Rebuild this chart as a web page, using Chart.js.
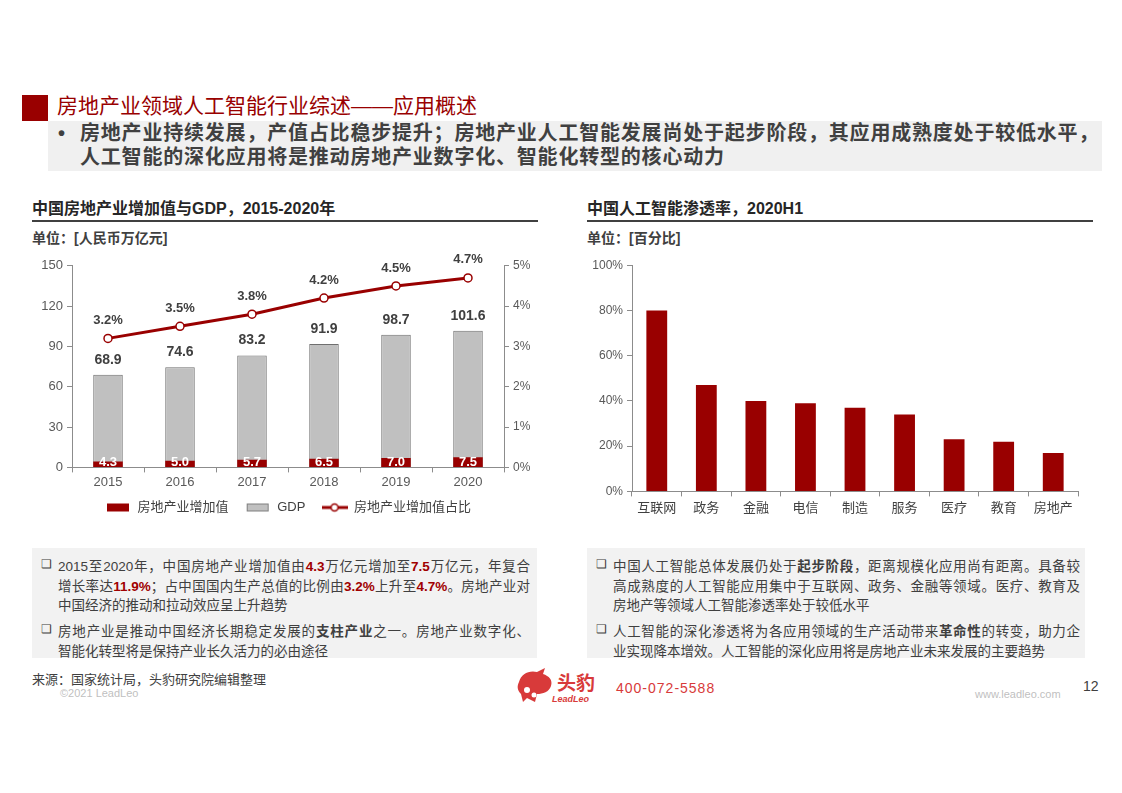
<!DOCTYPE html>
<html lang="zh">
<head>
<meta charset="utf-8">
<script src="https://cdn.jsdelivr.net/npm/chart.js@4.4.1/dist/chart.umd.min.js"></script>
<style>
  html, body { margin: 0; padding: 0; background: #fff; }
  body { width: 1122px; height: 793px; position: relative; overflow: hidden;
    font-family: "Liberation Sans", "Noto Sans CJK SC", sans-serif; color: #404040; }
  .abs { position: absolute; }
  .redsq { left: 22px; top: 95px; width: 26px; height: 26px; background: #990000; }
  .title { left: 57px; top: 89px; font-size: 21px; color: #990000; white-space: nowrap; }
  .lead { left: 48px; top: 121px; width: 1054px; height: 50px; background: #f0f0f0; }
  .lead div { position: absolute; font-size: 20px; line-height: 24px; font-weight: bold; color: #404040; white-space: nowrap; letter-spacing: 0.8px; }
  .ctitle { font-size: 16px; font-weight: bold; color: #262626; white-space: nowrap; }
  .rule { height: 2px; background: #404040; }
  .unit { font-size: 14px; font-weight: bold; color: #404040; white-space: nowrap; }
  .note { background: #f2f2f2; font-size: 13.5px; color: #404040; overflow: hidden; }
  .note .ln { position: absolute; white-space: nowrap; text-align: justify; text-align-last: justify; }
  .note .ln.last { text-align-last: left; }
  .note b.r { color: #a00000; }
  .note .bx { position: absolute; font-size: 12px; }
  .src { left: 32px; top: 669px; font-size: 13px; color: #404040; white-space: nowrap; }
  .copy { left: 60px; top: 687px; font-size: 11px; color: #bfbfbf; }
  .tel { left: 616px; top: 680px; font-size: 14px; color: #d83a3a; letter-spacing: 1px; }
  .web { left: 975px; top: 688px; font-size: 11px; color: #bfbfbf; }
  .page { left: 1083px; top: 678px; font-size: 14px; color: #404040; }
</style>
</head>
<body>
<div class="abs redsq"></div>
<div class="abs title">房地产业领域人工智能行业综述——应用概述</div>
<div class="abs lead">
  <div style="left:10px;top:0px;">•</div>
  <div style="left:32px;top:0px;">房地产业持续发展，产值占比稳步提升；房地产业人工智能发展尚处于起步阶段，其应用成熟度处于较低水平，</div>
  <div style="left:32px;top:24px;">人工智能的深化应用将是推动房地产业数字化、智能化转型的核心动力</div>
</div>

<div class="abs ctitle" style="left:32px;top:195px;">中国房地产业增加值与GDP，2015-2020年</div>
<div class="abs rule" style="left:32px;top:220px;width:506px;"></div>
<div class="abs unit" style="left:32px;top:227px;">单位：[人民币万亿元]</div>

<div class="abs ctitle" style="left:587px;top:195px;">中国人工智能渗透率，2020H1</div>
<div class="abs rule" style="left:587px;top:220px;width:506px;"></div>
<div class="abs unit" style="left:587px;top:227px;">单位：[百分比]</div>

<div class="abs" style="left:32px;top:254px;width:512px;height:270px;"><canvas id="chartGdp"></canvas></div>
<div class="abs" style="left:587px;top:254px;width:500px;height:266px;"><canvas id="chartAi"></canvas></div>

<div class="abs note" style="left:32px;top:548px;width:505px;height:110px;">
  <span class="bx" style="left:9px;top:9px;">❑</span>
  <div class="ln" style="left:26px;top:7px;width:472px;">2015至2020年，中国房地产业增加值由<b class="r">4.3</b>万亿元增加至<b class="r">7.5</b>万亿元，年复合</div>
  <div class="ln" style="left:26px;top:27px;width:472px;">增长率达<b class="r">11.9%</b>；占中国国内生产总值的比例由<b class="r">3.2%</b>上升至<b class="r">4.7%</b>。房地产业对</div>
  <div class="ln last" style="left:26px;top:46px;width:472px;">中国经济的推动和拉动效应呈上升趋势</div>
  <span class="bx" style="left:9px;top:74px;">❑</span>
  <div class="ln" style="left:26px;top:72px;width:472px;">房地产业是推动中国经济长期稳定发展的<b>支柱产业</b>之一。房地产业数字化、</div>
  <div class="ln last" style="left:26px;top:92px;width:472px;">智能化转型将是保持产业长久活力的必由途径</div>
</div>

<div class="abs note" style="left:587px;top:548px;width:498px;height:110px;">
  <span class="bx" style="left:9px;top:9px;">❑</span>
  <div class="ln" style="left:26px;top:7px;width:467px;">中国人工智能总体发展仍处于<b>起步阶段</b>，距离规模化应用尚有距离。具备较</div>
  <div class="ln" style="left:26px;top:27px;width:467px;">高成熟度的人工智能应用集中于互联网、政务、金融等领域。医疗、教育及</div>
  <div class="ln last" style="left:26px;top:46px;width:467px;">房地产等领域人工智能渗透率处于较低水平</div>
  <span class="bx" style="left:9px;top:74px;">❑</span>
  <div class="ln" style="left:26px;top:72px;width:467px;">人工智能的深化渗透将为各应用领域的生产活动带来<b>革命性</b>的转变，助力企</div>
  <div class="ln last" style="left:26px;top:92px;width:467px;">业实现降本增效。人工智能的深化应用将是房地产业未来发展的主要趋势</div>
</div>

<div class="abs src">来源：国家统计局，头豹研究院编辑整理</div>
<div class="abs copy">©2021 LeadLeo</div>
<svg class="abs" style="left:515px;top:668px;" width="40" height="36" viewBox="0 0 40 36">
  <path d="M4 14 C6 6 14 2 22 4 L30 0 L28 6 C34 8 38 12 36 18 C34 24 28 26 22 26 L20 34 L12 30 L8 34 L6 26 C2 22 2 18 4 14 Z" fill="#d83a3a"/>
  <circle cx="12" cy="22" r="3" fill="#fff"/><circle cx="19" cy="27" r="2.5" fill="#fff"/>
</svg>
<div class="abs" style="left:557px;top:668px;font-size:19px;font-weight:bold;color:#d83a3a;">头豹</div>
<div class="abs" style="left:552px;top:694px;font-size:9px;font-weight:bold;font-style:italic;color:#d83a3a;">LeadLeo</div>
<div class="abs tel">400-072-5588</div>
<div class="abs web">www.leadleo.com</div>
<div class="abs page">12</div>

<script>
// chart values
const years = ["2015", "2016", "2017", "2018", "2019", "2020"];
const realEstateValue = [4.3, 5.0, 5.7, 6.5, 7.0, 7.5];
const gdpValue = [68.9, 74.6, 83.2, 91.9, 98.7, 101.6];
const realEstateShare = [3.2, 3.5, 3.8, 4.2, 4.5, 4.7];

const aiSectors = ["互联网", "政务", "金融", "电信", "制造", "服务", "医疗", "教育", "房地产"];
const aiPenetration = [80, 47, 40, 39, 37, 34, 23, 22, 17];

(function () {
  const red = "#990000";
  const gray = "#c0c0c0";
  const axis = "#8c8c8c";
  const tickColor = "#595959";
  const font = "'Liberation Sans', 'Noto Sans CJK SC', sans-serif";

  // small legend swatches
  function swatch(kind, fill, stroke) {
    const c = document.createElement("canvas");
    c.width = 26; c.height = 12;
    const x = c.getContext("2d");
    if (kind === "box") {
      x.fillStyle = fill;
      x.fillRect(2, 2, 22, 8);
      if (stroke) { x.strokeStyle = stroke; x.lineWidth = 1; x.strokeRect(2.5, 2.5, 21, 7); }
    } else {
      x.strokeStyle = fill; x.lineWidth = 3;
      x.beginPath(); x.moveTo(0, 6); x.lineTo(26, 6); x.stroke();
      x.fillStyle = "#fff"; x.lineWidth = 1.5;
      x.beginPath(); x.arc(13, 6, 3.5, 0, Math.PI * 2); x.fill(); x.stroke();
    }
    return c;
  }

  const valueLabels = {
    id: "valueLabels",
    afterDatasetsDraw(chart) {
      const ctx = chart.ctx;
      ctx.save();
      ctx.textAlign = "center";
      ctx.textBaseline = "middle";
      chart.data.datasets.forEach((ds, i) => {
        const lbl = ds.valueLabel;
        if (!lbl) return;
        const meta = chart.getDatasetMeta(i);
        meta.data.forEach((el, j) => {
          ctx.font = "bold " + lbl.size + "px " + font;
          ctx.fillStyle = lbl.color;
          const txt = lbl.fmt(ds.data[j]);
          const y = lbl.inside ? chart.chartArea.bottom - 5 : el.y - lbl.offset;
          ctx.fillText(txt, el.x, y);
        });
      });
      ctx.restore();
    },
  };

  function yAxis(opts) {
    return Object.assign({
      beginAtZero: true,
      border: { color: axis, width: 1 },
      grid: { display: true, drawOnChartArea: false, drawTicks: true, tickLength: 5, color: axis },
      ticks: { color: tickColor, font: { family: font, size: 13 }, padding: 4 },
    }, opts);
  }

  function initGdp() {
    const canvas = document.getElementById("chartGdp");
    const labelsSw = [
      { text: "房地产业增加值  ", pointStyle: swatch("box", red) },
      { text: "GDP  ", pointStyle: swatch("box", gray, "#7f7f7f") },
      { text: "房地产业增加值占比", pointStyle: swatch("line", red) },
    ];
    new Chart(canvas.getContext("2d"), {
      data: {
        labels: years,
        datasets: [
          {
            type: "bar", label: "房地产业增加值", data: realEstateValue, backgroundColor: red,
            grouped: false, order: 1, barPercentage: 0.41, categoryPercentage: 1,
            valueLabel: { color: "#fff", size: 13, inside: true, fmt: (v) => v.toFixed(1) },
          },
          {
            type: "bar", label: "GDP", data: gdpValue, backgroundColor: gray,
            borderColor: "#6f6f6f", borderWidth: 1, grouped: false, order: 2,
            barPercentage: 0.41, categoryPercentage: 1,
            valueLabel: { color: "#404040", size: 14, offset: 15, fmt: (v) => v.toFixed(1) },
          },
          {
            type: "line", label: "房地产业增加值占比", data: realEstateShare, yAxisID: "y1", order: 0,
            borderColor: red, borderWidth: 3, pointRadius: 4, pointBorderWidth: 1.5,
            pointBackgroundColor: "#fff", pointBorderColor: red, tension: 0,
            valueLabel: { color: "#404040", size: 13, offset: 18, fmt: (v) => v.toFixed(1) + "%" },
          },
        ],
      },
      options: {
        responsive: true,
        maintainAspectRatio: false,
        animation: false,
        layout: { padding: { top: 8, left: 0, right: 0 } },
        plugins: {
          tooltip: { enabled: false },
          legend: {
            position: "bottom",
            labels: {
              usePointStyle: true, pointStyleWidth: 26, boxHeight: 12, padding: 9,
              color: "#404040", font: { family: font, size: 13 },
              generateLabels: () => labelsSw.map((l) => ({ text: l.text, pointStyle: l.pointStyle, fontColor: "#404040", lineWidth: 0 })),
            },
          },
        },
        scales: {
          x: {
            border: { color: axis },
            grid: { display: true, drawOnChartArea: false, tickLength: 5, color: axis, offset: true },
            ticks: { color: tickColor, font: { family: font, size: 13 }, padding: 2 },
          },
          y: yAxis({ position: "left", min: 0, max: 150, ticks: { stepSize: 30, color: tickColor, font: { family: font, size: 13 }, padding: 4 },
            afterFit: (s) => { s.width = 40; } }),
          y1: yAxis({ position: "right", min: 0, max: 5,
            ticks: { stepSize: 1, color: tickColor, font: { family: font, size: 12 }, padding: 4, callback: (v) => v + "%" },
            afterFit: (s) => { s.width = 40; } }),
        },
      },
      plugins: [valueLabels],
    });
  }

  function initAi() {
    const canvas = document.getElementById("chartAi");
    new Chart(canvas.getContext("2d"), {
      type: "bar",
      data: {
        labels: aiSectors,
        datasets: [{
          label: "渗透率", data: aiPenetration, backgroundColor: red,
          barPercentage: 0.42, categoryPercentage: 1,
        }],
      },
      options: {
        responsive: true,
        maintainAspectRatio: false,
        animation: false,
        layout: { padding: { top: 8, right: 9 } },
        plugins: { legend: { display: false }, tooltip: { enabled: false } },
        scales: {
          x: {
            border: { color: axis },
            grid: { display: true, drawOnChartArea: false, tickLength: 5, color: axis, offset: true },
            ticks: { color: "#404040", font: { family: font, size: 13 }, padding: 4 },
          },
          y: yAxis({ min: 0, max: 100,
            ticks: { stepSize: 20, color: tickColor, font: { family: font, size: 12 }, padding: 4, callback: (v) => v + "%" },
            afterFit: (s) => { s.width = 45; } }),
        },
      },
    });
  }

  document.addEventListener("DOMContentLoaded", () => {
    initGdp();
    initAi();
  });
})();
</script>
</body>
</html>
